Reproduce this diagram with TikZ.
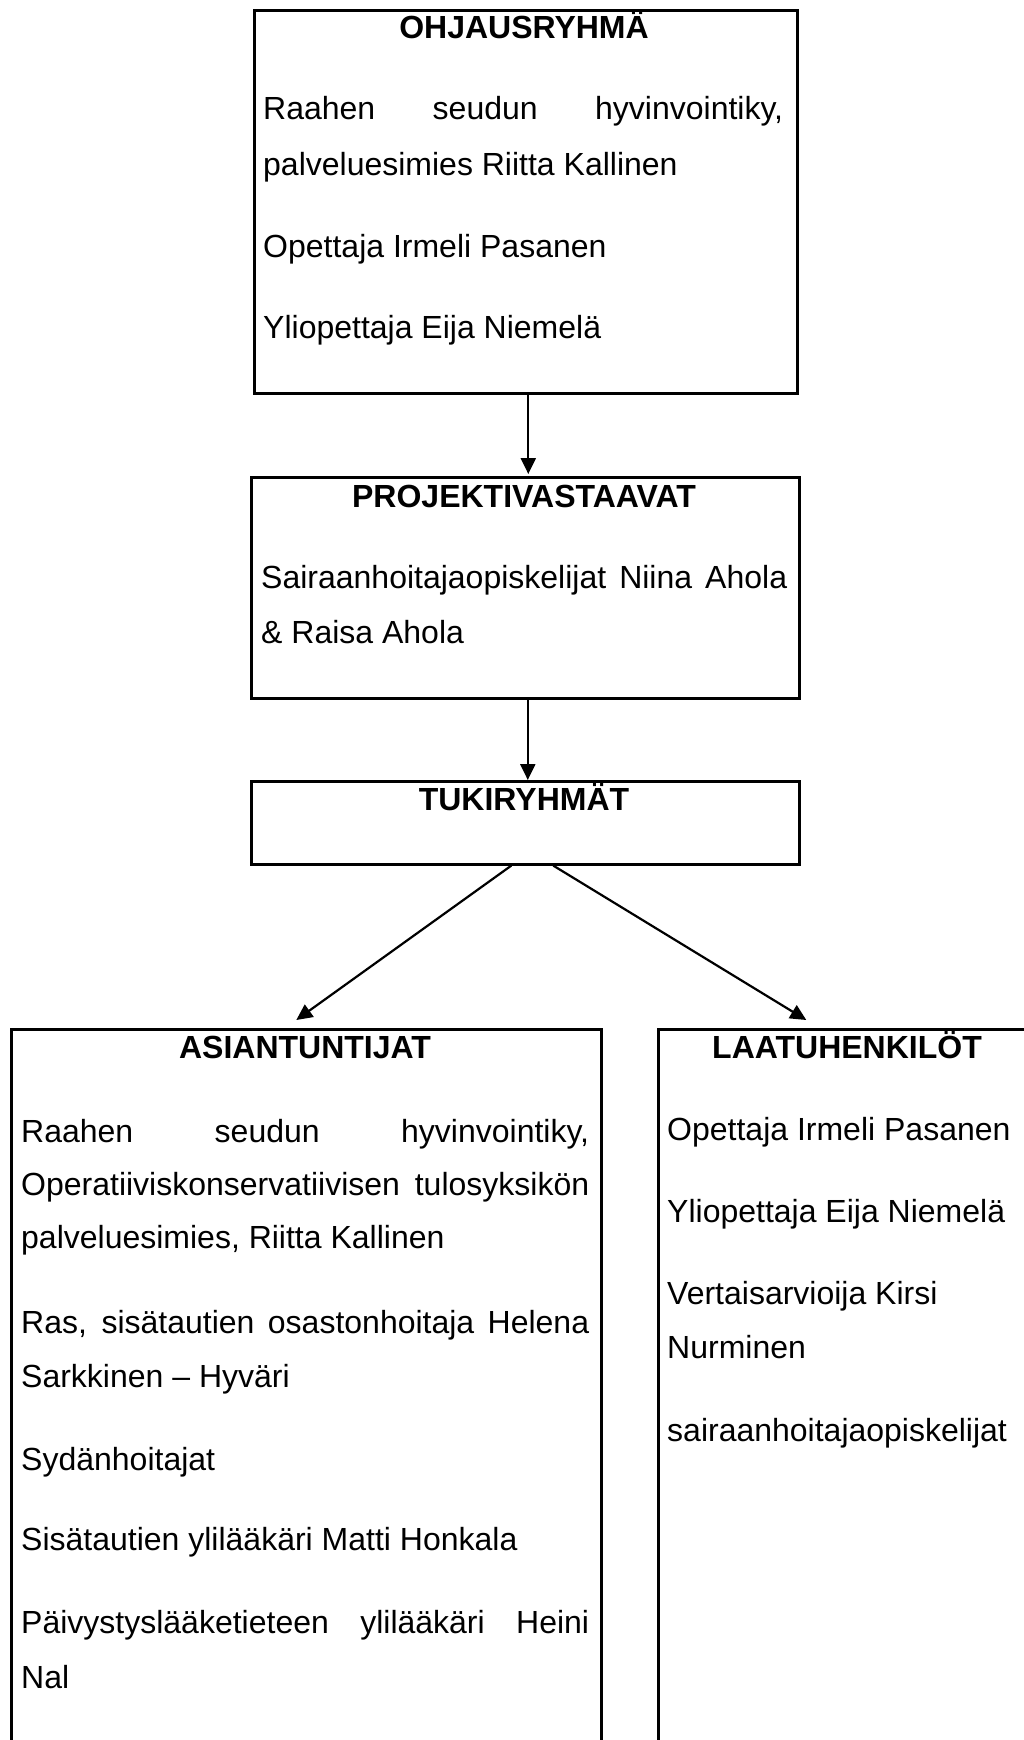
\documentclass[tikz,border=0pt]{standalone}
\usepackage{fontspec}
\setmainfont{Liberation Sans}
\usetikzlibrary{arrows.meta}
\begin{document}
\begin{tikzpicture}[x=1pt,y=-1pt,
  box/.style={draw, line width=2.6pt, inner sep=0pt, anchor=north west},
  ttl/.style={inner sep=0pt, anchor=base, font=\fontsize{32}{38}\selectfont\bfseries},
  txt/.style={inner sep=0pt, anchor=base west, font=\fontsize{32}{38}\selectfont},
  arr/.style={line width=2.2pt, -{Triangle[length=16pt,width=15pt]}}]
\useasboundingbox (0,0) rectangle (1024,1740);
\begin{scope}
\clip (0,0) rectangle (1024,1740);
\node[box, minimum width=543pt, minimum height=383pt] (ohj) at (253,9) {};
\node[box, minimum width=548pt, minimum height=221pt] (proj) at (250,476) {};
\node[box, minimum width=548pt, minimum height=83pt] (tuki) at (250,780) {};
\node[box, minimum width=590pt, minimum height=740pt] (asi) at (10,1028) {};
\node[box, minimum width=380pt, minimum height=740pt] (laa) at (657,1028) {};

\draw[arr, shorten >=2pt] ([xshift=2.5pt]ohj.south) -- ([xshift=2.5pt]ohj.south |- proj.north);
\draw[arr] ([xshift=2.5pt]proj.south) -- ([xshift=2.5pt]proj.south |- tuki.north);
\draw[arr] ([xshift=-14pt]tuki.south) -- ([xshift=-10pt,yshift=8pt]asi.north);
\draw[arr] ([xshift=28pt]tuki.south) -- ([xshift=-42pt,yshift=8pt]laa.north);
\end{scope}

% OHJAUSRYHMA
\node[ttl] (ohjt) at (524,38) {OHJAUSRYHMÄ};
\node[txt] (o1) at (263,119) {\makebox[520pt][s]{Raahen seudun hyvinvointiky,}};
\node[txt] (o2) at (263,175) {palveluesimies Riitta Kallinen};
\node[txt] (o3) at (263,257) {Opettaja Irmeli Pasanen};
\node[txt] (o4) at (263,338) {Yliopettaja Eija Niemelä};

% PROJEKTIVASTAAVAT
\node[ttl] (projt) at (524,507) {PROJEKTIVASTAAVAT};
\node[txt] (p1) at (261,588) {\makebox[526pt][s]{Sairaanhoitajaopiskelijat Niina Ahola}};
\node[txt] (p2) at (261,643) {\& Raisa Ahola};

% TUKIRYHMAT
\node[ttl] (tukit) at (524,810) {TUKIRYHMÄT};

% ASIANTUNTIJAT
\node[ttl] (asit) at (305,1058) {ASIANTUNTIJAT};
\node[txt] (a1) at (21,1142) {\makebox[568pt][s]{Raahen seudun hyvinvointiky,}};
\node[txt] (a2) at (21,1195) {\makebox[568pt][s]{Operatiiviskonservatiivisen tulosyksikön}};
\node[txt] (a3) at (21,1248) {palveluesimies, Riitta Kallinen};
\node[txt] (a4) at (21,1333) {\makebox[568pt][s]{Ras, sisätautien osastonhoitaja Helena}};
\node[txt] (a5) at (21,1387) {Sarkkinen – Hyväri};
\node[txt] (a6) at (21,1470) {Sydänhoitajat};
\node[txt] (a7) at (21,1550) {Sisätautien ylilääkäri Matti Honkala};
\node[txt] (a8) at (21,1633) {\makebox[568pt][s]{Päivystyslääketieteen ylilääkäri Heini}};
\node[txt] (a9) at (21,1688) {Nal};

% LAATUHENKILOT
\node[ttl] (laat) at (847,1058) {LAATUHENKILÖT};
\node[txt] (l1) at (667,1140) {Opettaja Irmeli Pasanen};
\node[txt] (l2) at (667,1222) {Yliopettaja Eija Niemelä};
\node[txt] (l3) at (667,1304) {Vertaisarvioija Kirsi};
\node[txt] (l4) at (667,1358) {Nurminen};
\node[txt] (l5) at (667,1441) {sairaanhoitajaopiskelijat};
\end{tikzpicture}
\end{document}
